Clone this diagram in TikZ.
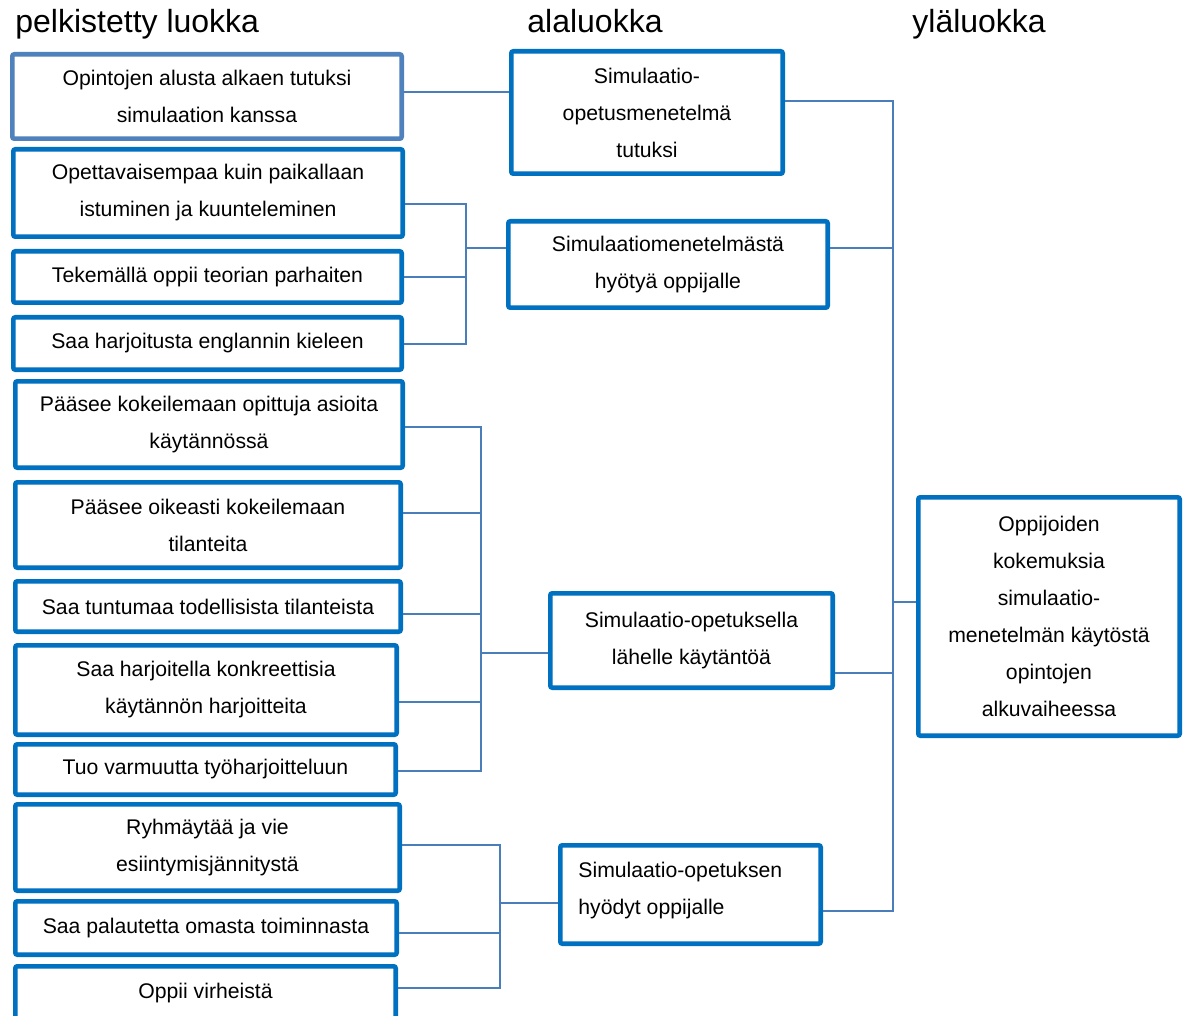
\documentclass[tikz,border=0pt]{standalone}
\usepackage{fontspec}
\setmainfont{Liberation Sans}
\definecolor{boxblue}{HTML}{0070C0}
\definecolor{paleblue}{HTML}{4F81BD}
\definecolor{wireblue}{HTML}{4A7EBB}
\newcommand\cellfont{\fontsize{10.6}{18.5}\selectfont}
\newcommand\headfont{\fontsize{16}{18}\selectfont}
\begin{document}
\begin{tikzpicture}[x=0.5pt,y=-0.5pt,
  box/.style={draw=boxblue, line width=2.35pt, fill=white, inner sep=0pt,
    rounded corners=1pt, align=center, font=\cellfont},
  palebox/.style={box, draw=paleblue},
  head/.style={anchor=base west, inner sep=0pt, font=\headfont},
  conn/.style={draw=wireblue, line width=0.75pt}]
\useasboundingbox (0,0) rectangle (1189,1016);
\fill[white] (0,0) rectangle (1189,1016);
\clip (0,0) rectangle (1189,1016);

% column headings
\node[head] (h1) at (15,33) {pelkistetty luokka};
\node[head] (h2) at (527,33) {alaluokka};
\node[head] (h3) at (912,33) {yläluokka};

% reduced categories
\node[palebox, minimum width=194.65pt, minimum height=42.15pt] (c1) at (207,96.5)
  {Opintojen alusta alkaen tutuksi\\simulaation kanssa};
\node[box, minimum width=194.65pt, minimum height=43.65pt] (c2) at (208,193)
  {Opettavaisempaa kuin paikallaan\\istuminen ja kuunteleminen};
\node[box, minimum width=194.15pt, minimum height=25.65pt] (c3) at (207.5,277)
  {Tekemällä oppii teorian parhaiten};
\node[box, minimum width=194.15pt, minimum height=26.15pt] (c4) at (207.5,343.5)
  {Saa harjoitusta englannin kieleen};
\node[box, minimum width=193.65pt, minimum height=43.15pt] (c5) at (209,424.5)
  {Pääsee kokeilemaan opittuja asioita\\käytännössä};
\node[box, minimum width=192.65pt, minimum height=42.65pt] (c6) at (208,525)
  {Pääsee oikeasti kokeilemaan\\tilanteita};
\node[box, minimum width=192.65pt, minimum height=25.15pt] (c7) at (208,606.5)
  {Saa tuntumaa todellisista tilanteista};
\node[box, minimum width=190.65pt, minimum height=44.65pt] (c8) at (206,690)
  {Saa harjoitella konkreettisia\\käytännön harjoitteita};
\node[box, minimum width=190.15pt, minimum height=25.15pt] (c9) at (205.5,769.5)
  {Tuo varmuutta työharjoitteluun};
\node[box, minimum width=192.15pt, minimum height=43.15pt] (c10) at (207.5,847.5)
  {Ryhmäytää ja vie\\esiintymisjännitystä};
\node[box, minimum width=190.65pt, minimum height=26.65pt] (c11) at (206,928)
  {Saa palautetta omasta toiminnasta};
\node[box, minimum width=190.15pt, minimum height=26.65pt] (c12) at (205.5,993)
  {Oppii virheistä};

% subcategories
\node[box, minimum width=135.65pt, minimum height=61.15pt] (m1) at (647,112.5)
  {Simulaatio-\\opetusmenetelmä\\tutuksi};
\node[box, minimum width=159.65pt, minimum height=43.15pt] (m2) at (668,264.5)
  {Simulaatiomenetelmästä\\hyötyä oppijalle};
\node[box, minimum width=141.15pt, minimum height=47.15pt] (m3) at (691.5,640.5)
  {Simulaatio-opetuksella\\lähelle käytäntöä};
\node[box, minimum width=130.15pt, minimum height=49.15pt] (m4) at (690.5,894.5) {};
\node[anchor=west, align=left, inner sep=0pt, font=\cellfont] (m4t)
  at ([xshift=10pt,yshift=2pt]m4.west) {Simulaatio-opetuksen\\hyödyt oppijalle};

% main category
\node[box, minimum width=130.65pt, minimum height=119.15pt] (r) at (1049,616.5)
  {Oppijoiden\\kokemuksia\\simulaatio-\\menetelmän käytöstä\\opintojen\\alkuvaiheessa};

% bracket junctions
\coordinate (b2) at (466,248);
\coordinate (b3) at (481,653);
\coordinate (b4) at (500,903);
\coordinate (b5) at (893,602);

% reduced -> sub
\draw[conn] (c1.east |- 0,92) -- (m1.west |- 0,92);
\draw[conn] (c2.east |- 0,204) -| (b2);
\draw[conn] (c3.east) -| (b2);
\draw[conn] (c4.east |- 0,344) -| (b2);
\draw[conn] (b2) -- (m2.west |- b2);

\draw[conn] (c5.east |- 0,427) -| (b3);
\draw[conn] (c6.east |- 0,513) -| (b3);
\draw[conn] (c7.east |- 0,614) -| (b3);
\draw[conn] (c8.east |- 0,702) -| (b3);
\draw[conn] (c9.east |- 0,771) -| (b3);
\draw[conn] (b3) -- (m3.west |- b3);

\draw[conn] (c10.east |- 0,845) -| (b4);
\draw[conn] (c11.east |- 0,933) -| (b4);
\draw[conn] (c12.east |- 0,988) -| (b4);
\draw[conn] (b4) -- (m4.west |- b4);

% sub -> main
\draw[conn] (m1.east |- 0,101) -| (b5);
\draw[conn] (m2.east |- 0,248) -| (b5);
\draw[conn] (m3.east |- 0,673) -| (b5);
\draw[conn] (m4.east |- 0,911) -| (b5);
\draw[conn] (b5) -- (r.west |- b5);
\end{tikzpicture}
\end{document}
